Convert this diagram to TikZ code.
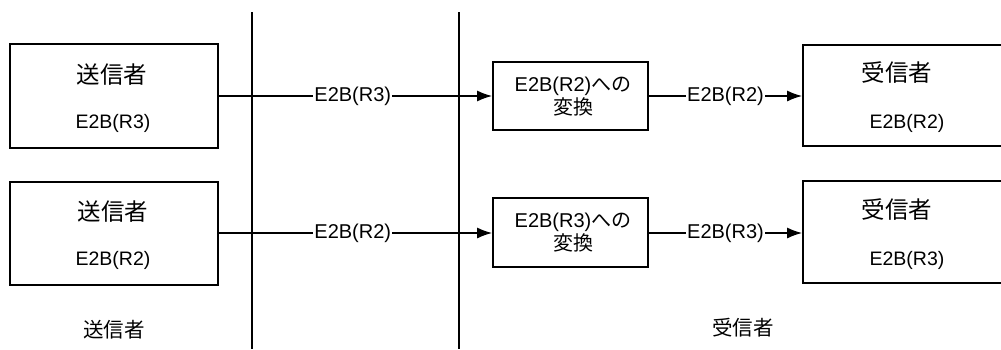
\documentclass[tikz,border=0pt]{standalone}
\usepackage{fontspec}
\setmainfont{Liberation Sans}
\newfontfamily\jp{Noto Sans CJK JP}
\usetikzlibrary{arrows.meta}
\begin{document}
\begin{tikzpicture}[x=1pt,y=-1pt,
  box/.style={draw, line width=1.8pt, inner sep=0pt},
  sepline/.style={line width=1.3pt},
  arr/.style={line width=1.4pt, -{Latex[length=15pt,width=11pt]}},
  lbl/.style={fill=white, inner sep=1pt, font=\fontsize{20}{24}\selectfont},
  ttl/.style={font=\fontsize{23.5}{28}\selectfont\jp},
  sub/.style={font=\fontsize{19.5}{24}\selectfont},
  mid/.style={font=\fontsize{20}{23}\selectfont, align=center, inner sep=0pt},
  foot/.style={font=\fontsize{20.5}{24}\selectfont\jp}]
\useasboundingbox (0,0) rectangle (1001,349);
\clip (0,0) rectangle (1001,349);
\fill[white] (0,0) rectangle (1001,349);
% separator lines
\coordinate (v1t) at (252,12); \coordinate (v1b) at (252,349);
\coordinate (v2t) at (459,12); \coordinate (v2b) at (459,349);
\draw[sepline] (v1t) -- (v1b);
\draw[sepline] (v2t) -- (v2b);
% boxes
\node[box, minimum width=208pt, minimum height=104pt] (s1) at (114,96) {};
\node[box, minimum width=208pt, minimum height=103pt] (s2) at (114,233.5) {};
\node[box, minimum width=155pt, minimum height=68pt] (c1) at (570.5,96) {};
\node[box, minimum width=155pt, minimum height=69pt] (c2) at (570.5,232.5) {};
\node[box, minimum width=215pt, minimum height=101pt] (r1) at (910.5,95.5) {};
\node[box, minimum width=215pt, minimum height=102pt] (r2) at (910.5,232) {};
% texts in boxes
\node[ttl] (s1t) at (112,75) {送信者};
\node[sub] (s1s) at (113,123) {E2B(R3)};
\node[ttl] (s2t) at (113,212) {送信者};
\node[sub] (s2s) at (113,260) {E2B(R2)};
\node[mid] (c1t) at (573,96.5) {E2B(R2){\jp への}\\{\jp 変換}};
\node[mid] (c2t) at (573,232.5) {E2B(R3){\jp への}\\{\jp 変換}};
\node[ttl] (r1t) at (897,73) {受信者};
\node[sub] (r1s) at (907,123) {E2B(R2)};
\node[ttl] (r2t) at (897,210) {受信者};
\node[sub] (r2s) at (907,260) {E2B(R3)};
% footers
\node[foot] (f1) at (114,330) {送信者};
\node[foot] (f2) at (743,328) {受信者};
% arrows
\draw[arr] (s1.east) -- node[lbl, pos=0.49] {E2B(R3)} (c1.west);
\draw[arr] (c1.east) -- node[lbl, pos=0.5] {E2B(R2)} (c1.east -| r1.west);
\draw[arr] (s2.east |- 0,233) -- node[lbl, pos=0.49] {E2B(R2)} (c2.west |- 0,233);
\draw[arr] (c2.east |- 0,233) -- node[lbl, pos=0.5] {E2B(R3)} (r2.west |- 0,233);
\end{tikzpicture}
\end{document}
